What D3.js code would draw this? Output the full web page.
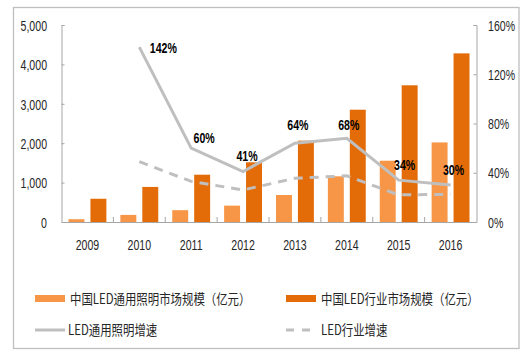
<!DOCTYPE html>
<html><head><meta charset="utf-8">
<script src="https://cdn.jsdelivr.net/npm/d3@7"></script>
<style>
html,body{margin:0;padding:0;background:#fff;}
svg{display:block;}
.num{font-family:"Liberation Sans",Arial,sans-serif;}
.cjk{font-family:"Noto Sans CJK SC","Noto Sans",sans-serif;}
</style>
</head><body>
<svg id="chart" width="525" height="356"></svg>
<script>
const years = ["2009","2010","2011","2012","2013","2014","2015","2016"];
const generalLighting = [70,180,300,415,685,1160,1555,2020];      // 中国LED通用照明市场规模（亿元）
const industryMarket = [590,890,1200,1515,2065,2850,3470,4280];   // 中国LED行业市场规模（亿元）
const generalGrowth = [null,1.42,0.60,0.41,0.64,0.68,0.34,0.30];  // LED通用照明增速
const industryGrowth = [null,0.49,0.33,0.26,0.355,0.375,0.22,0.225]; // LED行业增速
const leftTicks = [0,1000,2000,3000,4000,5000];
const rightTicks = [0,0.4,0.8,1.2,1.6];
const legendLabels = ["中国LED通用照明市场规模（亿元）","中国LED行业市场规模（亿元）","LED通用照明增速","LED行业增速"];
// label placement offsets (label centre relative to its point), styling only
const labelDX = [24,13,4,3,2,6,3];
const labelDY = [1,-10,-16,-18,-13,-15,-15];

const C_LIGHT = "#F79646", C_DARK = "#E36C09", C_LINE = "#BFBFBF", C_AXIS = "#A6A6A6", C_TXT = "#262626";
const NUM_SIZE = 14.5, NUM_SX = 0.73, CJK_SIZE = 14, CJK_SX = 0.815;

// horizontally condense a text element around its own anchor point
function squeeze(sel, s){
  sel.each(function(){
    const t = d3.select(this);
    const x0 = +(t.attr("x") || 0);
    t.attr("x", x0 / s).attr("transform", `scale(${s},1)`);
  });
}

const svg = d3.select("#chart");
svg.append("rect").attr("x",13.5).attr("y",7.5).attr("width",505.5).attr("height",341)
  .attr("fill","none").attr("stroke","#BFBFBF").attr("stroke-width",1.3);

const L = 61.5, R = 476.5, B = 222, T = 25;
const x = d3.scaleBand().domain(years).range([L, R]).padding(0);
const sub = d3.scaleBand().domain(["g","i"]).range([7, x.bandwidth()-7]).paddingInner(0.273);
const yL = d3.scaleLinear().domain([0,5000]).range([B, T]);
const yR = d3.scaleLinear().domain([0,1.6]).range([B, T]);

// bars
const g = svg.append("g");
g.selectAll("rect.g").data(years).join("rect")
  .attr("x", d => x(d) + sub("g")).attr("width", sub.bandwidth())
  .attr("y", (d,i) => yL(generalLighting[i])).attr("height", (d,i) => B - yL(generalLighting[i]))
  .attr("fill", C_LIGHT);
g.selectAll("rect.i").data(years).join("rect")
  .attr("x", d => x(d) + sub("i")).attr("width", sub.bandwidth())
  .attr("y", (d,i) => yL(industryMarket[i])).attr("height", (d,i) => B - yL(industryMarket[i]))
  .attr("fill", C_DARK);

// axes
const axL = d3.axisLeft(yL).tickValues(leftTicks).tickSize(-3).tickPadding(14).tickFormat(d3.format(","));
const axR = d3.axisRight(yR).tickValues(rightTicks).tickSize(-3).tickPadding(11).tickFormat(d3.format(".0%"));
const axB = d3.axisBottom(x).tickSize(0).tickPadding(14);

const gL = svg.append("g").attr("transform",`translate(${L},0)`).call(axL);
const gR = svg.append("g").attr("transform",`translate(${R},0)`).call(axR);
const gB = svg.append("g").attr("transform",`translate(0,${B})`).call(axB);
[gL,gR,gB].forEach(a => {
  a.select(".domain").attr("stroke", C_AXIS);
  a.selectAll(".tick line").attr("stroke", C_AXIS);
  a.selectAll("text").attr("class","num").attr("font-size",NUM_SIZE).attr("fill",C_TXT);
});
gB.selectAll(".tick text").attr("y", 28.5).attr("dy", null);
gL.selectAll(".tick text").attr("x", -14.5).attr("dy","0.36em");
gR.selectAll(".tick text").attr("x", 11.5).attr("dy","0.36em");
[gL,gR,gB].forEach(a => squeeze(a.selectAll(".tick text"), NUM_SX));
// category boundary ticks (inward)
gB.selectAll("line.sep").data(years.slice(1)).join("line").attr("class","sep")
  .attr("x1", d => x(d)).attr("x2", d => x(d)).attr("y1",0).attr("y2",-5).attr("stroke",C_AXIS);

// lines
const pts1 = years.map((d,i)=>({x:x(d)+x.bandwidth()/2, v:generalGrowth[i]})).filter(p=>p.v!=null);
const pts2 = years.map((d,i)=>({x:x(d)+x.bandwidth()/2, v:industryGrowth[i]})).filter(p=>p.v!=null);
const line = d3.line().x(p=>p.x).y(p=>yR(p.v));
svg.append("path").datum(pts2).attr("d",line).attr("fill","none").attr("stroke",C_LINE)
  .attr("stroke-width",3).attr("stroke-dasharray","9,7");
svg.append("path").datum(pts1).attr("d",line).attr("fill","none").attr("stroke",C_LINE)
  .attr("stroke-width",3);

// data labels
const lbl = svg.selectAll("text.lbl").data(pts1).join("text").attr("class","num lbl")
  .attr("x",(p,i)=> p.x + labelDX[i])
  .attr("y",(p,i)=> yR(p.v) + labelDY[i]).attr("dy","0.36em")
  .attr("text-anchor","middle")
  .attr("font-size",NUM_SIZE).attr("font-weight","bold").attr("fill","#000")
  .text(p=>Math.round(p.v*100)+"%");
squeeze(lbl, NUM_SX);

// legend
const leg = svg.append("g");
const lx = [35, 286], ly = [298.5, 330];
leg.append("rect").attr("x",lx[0]).attr("y",ly[0]-3.5).attr("width",30).attr("height",7).attr("fill",C_LIGHT);
leg.append("rect").attr("x",lx[1]).attr("y",ly[0]-3.5).attr("width",30).attr("height",7).attr("fill",C_DARK);
leg.append("line").attr("x1",lx[0]).attr("x2",lx[0]+30).attr("y1",ly[1]).attr("y2",ly[1]).attr("stroke",C_LINE).attr("stroke-width",3);
leg.append("line").attr("x1",lx[1]).attr("x2",lx[1]+30).attr("y1",ly[1]).attr("y2",ly[1]).attr("stroke",C_LINE).attr("stroke-width",3).attr("stroke-dasharray","8,8");
const txtPos = [[lx[0]+35,ly[0]],[lx[1]+35,ly[0]],[lx[0]+33,ly[1]],[lx[1]+35,ly[1]]];
const lt = leg.selectAll("text").data(legendLabels).join("text").attr("class","cjk")
  .attr("x",(d,i)=>txtPos[i][0]).attr("y",(d,i)=>txtPos[i][1]).attr("dy","0.36em")
  .attr("font-size",CJK_SIZE).attr("fill",C_TXT).text(d=>d);
squeeze(lt, CJK_SX);
</script>
</body></html>
